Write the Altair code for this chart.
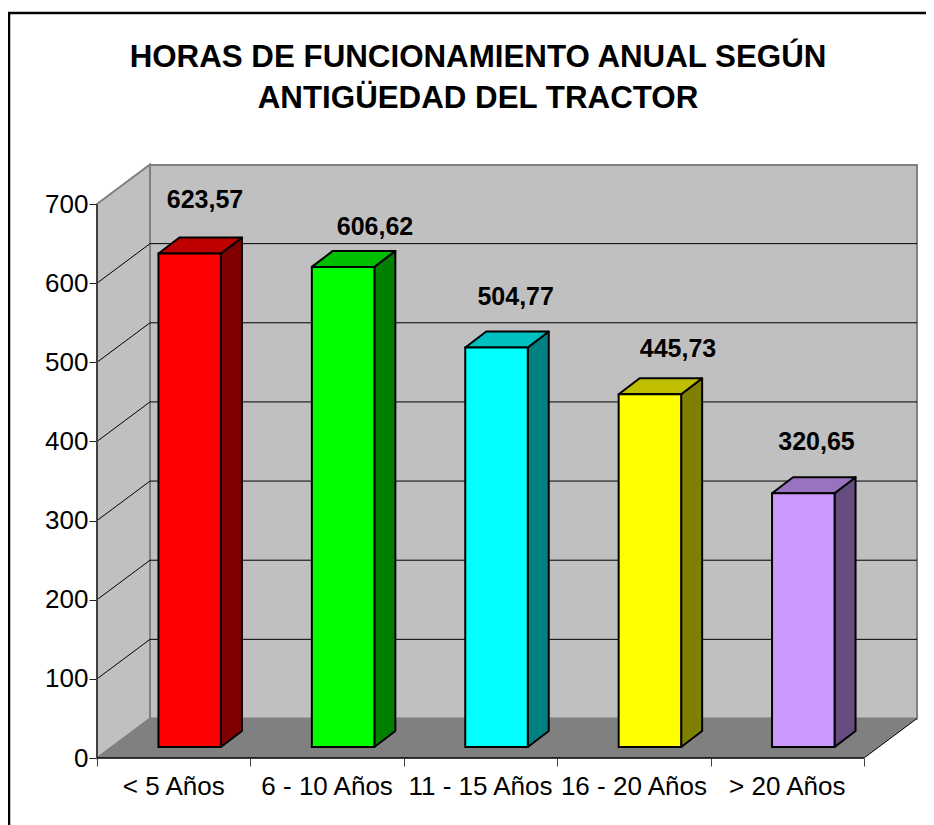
import altair as alt
import pandas as pd

categories = ["< 5 Años", "6 - 10 Años", "11 - 15 Años", "16 - 20 Años", "> 20 Años"]
values = [623.57, 606.62, 504.77, 445.73, 320.65]
front_colors = ["#ff0000", "#00ff00", "#00ffff", "#ffff00", "#cc99ff"]
side_colors = ["#800000", "#008000", "#008080", "#808000", "#664d80"]
top_colors = ["#bf0000", "#00bf00", "#00bfbf", "#bfbf00", "#9973bf"]
y_ticks = [0, 100, 200, 300, 400, 500, 600, 700]
x_ticks = [0, 1, 2, 3, 4, 5]
title_lines = ["HORAS DE FUNCIONAMIENTO ANUAL SEGÚN", "ANTIGÜEDAD DEL TRACTOR"]
# value-label placement relative to each bar (category units, value units)
label_dx = [0.0997, 0.208, 0.125, 0.183, 0.086]
label_dy = [82.1, 64.9, 78.2, 70.5, 79.2]

FONT = "Liberation Sans"
PX_X = 153.4
PX_Y = 554 / 700
W, H = 820, 593
WALL_X, WALL_Y = 53 / PX_X, 39.5 / PX_Y
HALF = 31.25 / PX_X
NEAR_X, NEAR_Y = 16 / PX_X, 11 / PX_Y
FAR_X, FAR_Y = 37 / PX_X, 27 / PX_Y

xs = alt.Scale(domain=[0, W / PX_X], nice=False, zero=False)
ys = alt.Scale(domain=[0, H / PX_Y], nice=False, zero=False)
X = lambda **k: alt.X("x:Q", scale=xs, title=None, **k)
Y = lambda **k: alt.Y("y:Q", scale=ys, title=None, **k)
X2 = alt.X2("x2:Q")
Y2 = alt.Y2("y2:Q")

# walls and floor
back = alt.Chart(pd.DataFrame([{"x": WALL_X, "x2": 5 + WALL_X, "y": WALL_Y, "y2": H / PX_Y}])).mark_rect(
    fill="#c0c0c0", stroke="#808080", strokeWidth=2
).encode(
    x=X(axis=alt.Axis(values=x_ticks, labels=False, domain=False, grid=False, tickSize=8,
                      tickColor="#404040", tickWidth=1)),
    y=Y(axis=alt.Axis(values=y_ticks, domain=False, grid=False, tickSize=8, tickColor="#202020",
                      tickWidth=1, labelFont=FONT, labelFontSize=26, labelColor="#000000", labelPadding=1)),
    x2=X2, y2=Y2,
)
left = alt.Chart(pd.DataFrame([
    {"x": 0, "y": 0, "y2": 700},
    {"x": WALL_X, "y": WALL_Y, "y2": 700 + WALL_Y},
])).mark_area(fill="#c0c0c0", stroke="#808080", strokeWidth=2).encode(x=X(), y=Y(), y2=Y2)
floor = alt.Chart(pd.DataFrame([
    {"x": 0, "x2": 5, "y": 0},
    {"x": WALL_X, "x2": 5 + WALL_X, "y": WALL_Y},
])).mark_area(fill="#808080", orient="horizontal").encode(x=X(), x2=X2, y=Y())

# gridlines
grid_back = alt.Chart(pd.DataFrame([
    {"x": WALL_X, "x2": 5 + WALL_X, "y": t + WALL_Y} for t in y_ticks[1:-1]
])).mark_rule(color="#000000", strokeWidth=1).encode(x=X(), x2=X2, y=Y())
slant_rows = []
for t in y_ticks[1:-1]:
    slant_rows += [{"x": 0, "y": t, "t": t}, {"x": WALL_X, "y": t + WALL_Y, "t": t}]
grid_left = alt.Chart(pd.DataFrame(slant_rows)).mark_line(color="#000000", strokeWidth=1).encode(
    x=X(), y=Y(), detail="t:N")
floor_edge = alt.Chart(pd.DataFrame([
    {"x": 5, "y": 0}, {"x": 5 + WALL_X, "y": WALL_Y},
])).mark_line(color="#000000", strokeWidth=1).encode(x=X(), y=Y())

# bars
front_rows, side_rows, top_rows = [], [], []
for i, v in enumerate(values):
    c = i + 0.5 + NEAR_X
    a, b = c - HALF, c + HALF
    d_x, d_y = FAR_X - NEAR_X, FAR_Y - NEAR_Y
    front_rows.append({"x": a, "x2": b, "y": NEAR_Y, "y2": v + NEAR_Y, "c": front_colors[i]})
    side_rows += [
        {"x": b, "y": NEAR_Y, "y2": v + NEAR_Y, "c": side_colors[i], "i": i},
        {"x": b + d_x, "y": FAR_Y, "y2": v + FAR_Y, "c": side_colors[i], "i": i},
    ]
    top_rows += [
        {"x": a, "x2": b, "y": v + NEAR_Y, "c": top_colors[i], "i": i},
        {"x": a + d_x, "x2": b + d_x, "y": v + FAR_Y, "c": top_colors[i], "i": i},
    ]
fill = alt.Fill("c:N", scale=None)
side = alt.Chart(pd.DataFrame(side_rows)).mark_area(stroke="#000000", strokeWidth=2, strokeJoin="round").encode(
    x=X(), y=Y(), y2=Y2, fill=fill, detail="i:N")
top = alt.Chart(pd.DataFrame(top_rows)).mark_area(stroke="#000000", strokeWidth=2, strokeJoin="round",
                                                 orient="horizontal").encode(
    x=X(), x2=X2, y=Y(), fill=fill, detail="i:N")
front = alt.Chart(pd.DataFrame(front_rows)).mark_rect(stroke="#000000", strokeWidth=2).encode(
    x=X(), x2=X2, y=Y(), y2=Y2, fill=fill)

# axis lines
axis_y = alt.Chart(pd.DataFrame([{"x": 0, "y": 0, "y2": 700}])).mark_rule(color="#404040", strokeWidth=2).encode(
    x=X(), y=Y(), y2=Y2)
axis_x = alt.Chart(pd.DataFrame([{"x": 0, "x2": 5, "y": 0}])).mark_rule(color="#000000", strokeWidth=1.5).encode(
    x=X(), x2=X2, y=Y())

# text
cat_text = alt.Chart(pd.DataFrame([
    {"x": i + 0.5, "y": 0, "t": c} for i, c in enumerate(categories)
])).mark_text(font=FONT, fontSize=26, color="#000000", dy=29).encode(x=X(), y=Y(), text="t:N")
val_text = alt.Chart(pd.DataFrame([
    {"x": i + 0.5 + NEAR_X + label_dx[i], "y": v + label_dy[i], "t": f"{v:.2f}".replace(".", ",")}
    for i, v in enumerate(values)
])).mark_text(font=FONT, fontSize=25, fontWeight="bold", color="#000000").encode(x=X(), y=Y(), text="t:N")
title_1 = alt.Chart(pd.DataFrame([{"t": title_lines[0]}])).mark_text(
    font=FONT, fontSize=31.3, fontWeight="bold", color="#000000"
).encode(x=alt.value(381), y=alt.value(-107.5), text="t:N")
title_2 = alt.Chart(pd.DataFrame([{"t": title_lines[1]}])).mark_text(
    font=FONT, fontSize=31.3, fontWeight="bold", color="#000000"
).encode(x=alt.value(381), y=alt.value(-66.5), text="t:N")

# outer frame
frame_l = alt.Chart(pd.DataFrame([{"k": 0}])).mark_rule(color="#000000", strokeWidth=2.5).encode(
    x=alt.value(-88), y=alt.value(-152), y2=alt.value(H + 67))
frame_t = alt.Chart(pd.DataFrame([{"k": 0}])).mark_rule(color="#000000", strokeWidth=2.5).encode(
    y=alt.value(-152), x=alt.value(-89), x2=alt.value(W + 9))

chart = alt.layer(
    back, left, floor, grid_back, grid_left, floor_edge, axis_y, axis_x,
    side, top, front, cat_text, val_text, title_1, title_2, frame_l, frame_t,
).properties(
    width=W, height=H,
    autosize=alt.AutoSizeParams(type="none"),
    padding={"left": 89, "top": 157, "right": 9, "bottom": 67},
    background="#ffffff",
).configure_view(stroke=None)

chart.save("out.html", embed_options={"renderer": "svg", "actions": False})
